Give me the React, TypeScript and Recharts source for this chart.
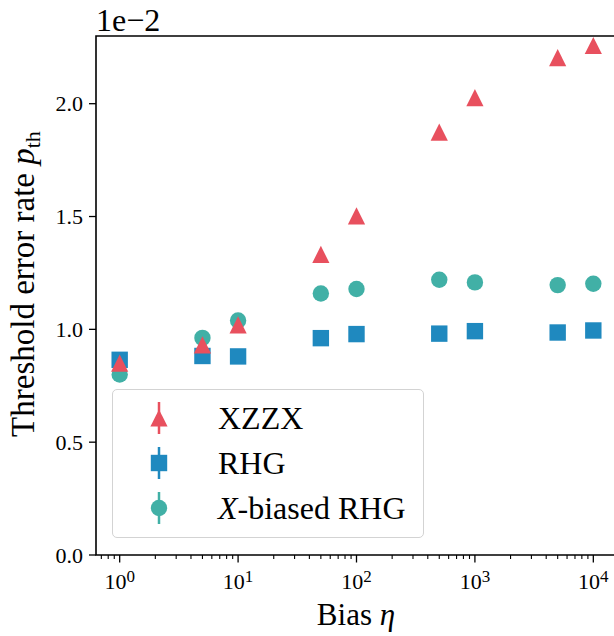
import { ScatterChart, Scatter, XAxis, YAxis, ReferenceArea } from "recharts";

// bias values eta (log axis)
const biasValues = [1, 5, 10, 50, 100, 500, 1000, 5000, 10000];
// threshold error rates, in units of 1e-2
const xzzxThreshold = [0.85, 0.931, 1.02, 1.332, 1.503, 1.874, 2.027, 2.204, 2.258];
const rhgThreshold = [0.865, 0.882, 0.88, 0.961, 0.979, 0.981, 0.992, 0.986, 0.995];
const xBiasedThreshold = [0.8, 0.962, 1.039, 1.159, 1.179, 1.22, 1.208, 1.196, 1.202];

const xMajorTicks = [1, 10, 100, 1000, 10000];
const xMinorTicks = [
  0.7, 0.8, 0.9,
  2, 3, 4, 5, 6, 7, 8, 9,
  20, 30, 40, 50, 60, 70, 80, 90,
  200, 300, 400, 500, 600, 700, 800, 900,
  2000, 3000, 4000, 5000, 6000, 7000, 8000, 9000,
];
const yTicks = [0, 0.5, 1.0, 1.5, 2.0];

const X_DOMAIN: [number, number] = [Math.pow(10, -0.2), Math.pow(10, 4.2)];
const Y_DOMAIN: [number, number] = [0, 2.3];

const RED = "#e8505e";
const BLUE = "#1f89bf";
const TEAL = "#41b0a6";
const FONT = "'Liberation Serif', 'Times New Roman', serif";

const toPoints = (ys: number[]) => biasValues.map((x, i) => ({ x, y: ys[i] }));
const allXTicks = [...xMinorTicks, ...xMajorTicks].sort((a, b) => a - b);

const Triangle = (props: any) => {
  const { cx, cy, fill } = props;
  const h = 8.6;
  return <path d={`M${cx},${cy - h}L${cx - h},${cy + h}L${cx + h},${cy + h}Z`} fill={fill} />;
};
const Square = (props: any) => {
  const { cx, cy, fill } = props;
  const s = 8.2;
  return <rect x={cx - s} y={cy - s} width={2 * s} height={2 * s} fill={fill} />;
};
const Dot = (props: any) => {
  const { cx, cy, fill } = props;
  return <circle cx={cx} cy={cy} r={8.2} fill={fill} />;
};

// draws its own tick mark: long for decades, short for minor ticks
const XTick = (props: any) => {
  const { x, y, payload } = props;
  const v = payload.value;
  const major = xMajorTicks.includes(v);
  if (!major) {
    return <line x1={x} y1={y} x2={x} y2={y + 4} stroke="#000" strokeWidth={1.1} />;
  }
  const exp = Math.round(Math.log10(v));
  return (
    <g>
      <line x1={x} y1={y} x2={x} y2={y + 7.5} stroke="#000" strokeWidth={1.3} />
      <text x={x} y={y + 34} textAnchor="middle" fontFamily={FONT} fontSize={22} fill="#000">
        10
        <tspan dy={-7} fontSize={17}>
          {exp}
        </tspan>
      </text>
    </g>
  );
};

const YTick = (props: any) => {
  const { x, y, payload } = props;
  return (
    <text x={x} y={y + 7.5} textAnchor="end" fontFamily={FONT} fontSize={22} fill="#000">
      {payload.value.toFixed(1)}
    </text>
  );
};

const YLabel = () => (
  <text
    x={34}
    y={284}
    transform="rotate(-90, 34, 284)"
    textAnchor="middle"
    fontFamily={FONT}
    fontSize={33}
    fill="#000"
  >
    Threshold error rate <tspan fontStyle="italic">p</tspan>
    <tspan fontSize={22} dy={6}>th</tspan>
  </text>
);

const XLabel = () => (
  <text x={356} y={625} textAnchor="middle" fontFamily={FONT} fontSize={31} fill="#000">
    Bias <tspan fontStyle="italic">η</tspan>
  </text>
);

const legendItems = [
  { name: "XZZX", color: RED, marker: "triangle" },
  { name: "RHG", color: BLUE, marker: "square" },
  { name: "X-biased RHG", color: TEAL, marker: "circle" },
];

function LegendIcon({ color, marker }: { color: string; marker: string }) {
  return (
    <svg width={30} height={36} style={{ display: "block" }}>
      <line x1={15} y1={2} x2={15} y2={34} stroke={color} strokeWidth={2.5} />
      {marker === "triangle" && <path d="M15,9.4L6.4,26.6L23.6,26.6Z" fill={color} />}
      {marker === "square" && <rect x={6.8} y={9.8} width={16.4} height={16.4} fill={color} />}
      {marker === "circle" && <circle cx={15} cy={18} r={8.2} fill={color} />}
    </svg>
  );
}

export default function App() {
  return (
    <div style={{ position: "fixed", left: 0, top: 0, width: 614, height: 636, overflow: "hidden", background: "#fff" }}>
      <ScatterChart width={630} height={636} margin={{ top: 36, right: 13, left: 36, bottom: 51 }}>
        <XAxis
          dataKey="x"
          type="number"
          scale="log"
          domain={X_DOMAIN}
          allowDataOverflow
          ticks={allXTicks}
          interval={0}
          tick={<XTick />}
          tickSize={0}
          tickMargin={0}
          axisLine={false}
          tickLine={false}
          height={30}
          label={<XLabel />}
        />
        <YAxis
          dataKey="y"
          type="number"
          domain={Y_DOMAIN}
          allowDataOverflow
          ticks={yTicks}
          interval={0}
          tick={<YTick />}
          tickSize={7}
          tickMargin={6}
          axisLine={false}
          tickLine={{ stroke: "#000", strokeWidth: 1.3 }}
          width={60}
          label={<YLabel />}
        />
        <ReferenceArea
          x1={X_DOMAIN[0]}
          x2={X_DOMAIN[1]}
          y1={Y_DOMAIN[0]}
          y2={Y_DOMAIN[1]}
          fill="none"
          stroke="#000"
          strokeWidth={1.6}
          fillOpacity={0}
        />
        {/* triangles end up on top where markers overlap */}
        <Scatter name="RHG" data={toPoints(rhgThreshold)} fill={BLUE} shape={<Square />} isAnimationActive={false} />
        <Scatter name="X-biased RHG" data={toPoints(xBiasedThreshold)} fill={TEAL} shape={<Dot />} isAnimationActive={false} />
        <Scatter name="XZZX" data={toPoints(xzzxThreshold)} fill={RED} shape={<Triangle />} isAnimationActive={false} />
      </ScatterChart>

      <div style={{ position: "absolute", left: 96, top: 4, fontFamily: FONT, fontSize: 32, lineHeight: "32px", color: "#000" }}>
        1e−2
      </div>

      <div
        style={{
          position: "absolute",
          left: 112,
          top: 389,
          width: 312,
          height: 149,
          border: "1px solid #d3d3d3",
          borderRadius: 5,
          background: "rgba(255,255,255,0.8)",
          boxSizing: "border-box",
          fontFamily: FONT,
          fontSize: 32,
          color: "#000",
        }}
      >
        {legendItems.map((item, i) => (
          <div
            key={item.name}
            style={{ position: "absolute", left: 31, top: 10 + i * 45, height: 36, display: "flex", alignItems: "center" }}
          >
            <LegendIcon color={item.color} marker={item.marker} />
            <span style={{ marginLeft: 44, lineHeight: "36px", whiteSpace: "nowrap" }}>
              {item.name === "X-biased RHG" ? (
                <>
                  <i>X</i>-biased RHG
                </>
              ) : (
                item.name
              )}
            </span>
          </div>
        ))}
      </div>
    </div>
  );
}
